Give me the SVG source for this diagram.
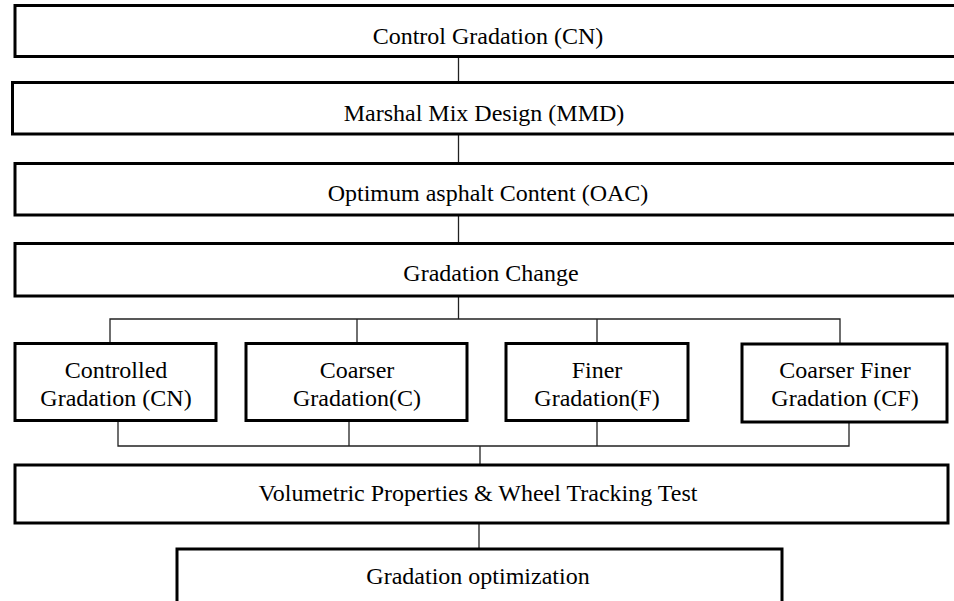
<svg xmlns="http://www.w3.org/2000/svg" width="954" height="601" viewBox="0 0 954 601">
<style>
.box{fill:#fff;stroke:#000;stroke-width:3}
.t{font-family:"Liberation Serif","Times New Roman",serif;font-size:24px;fill:#000;text-anchor:middle}
.c{fill:none;stroke:#222;stroke-width:1.3}
</style>
<rect width="954" height="601" fill="#fff"/>
<g id="connectors">
<line class="c" x1="458.5" y1="57" x2="458.5" y2="82"/>
<line class="c" x1="458.5" y1="134" x2="458.5" y2="163"/>
<line class="c" x1="458.5" y1="215" x2="458.5" y2="243"/>
<line class="c" x1="458.5" y1="296" x2="458.5" y2="319"/>
<polyline class="c" points="110,343 110,319 840,319 840,343"/>
<line class="c" x1="357" y1="319" x2="357" y2="343"/>
<line class="c" x1="597" y1="319" x2="597" y2="343"/>
<polyline class="c" points="118,420 118,446 849,446 849,421"/>
<line class="c" x1="349" y1="420" x2="349" y2="446"/>
<line class="c" x1="597" y1="420" x2="597" y2="446"/>
<line class="c" x1="480" y1="446" x2="480" y2="465"/>
<line class="c" x1="479" y1="523" x2="479" y2="549"/>
</g>
<g id="n1"><rect class="box" x="15" y="5.5" width="950" height="51"/><text class="t" x="488" y="44">Control Gradation (CN)</text></g>
<g id="n2"><rect class="box" x="12.5" y="82.5" width="950" height="51.5"/><text class="t" x="484" y="121">Marshal Mix Design (MMD)</text></g>
<g id="n3"><rect class="box" x="15" y="163.5" width="950" height="51.5"/><text class="t" x="488" y="201">Optimum asphalt Content (OAC)</text></g>
<g id="n4"><rect class="box" x="15" y="243.5" width="950" height="52.5"/><text class="t" x="491" y="281">Gradation Change</text></g>
<g id="n5"><rect class="box" x="15" y="343.5" width="201" height="77"/><text class="t" x="116" y="378">Controlled</text><text class="t" x="116" y="406">Gradation (CN)</text></g>
<g id="n6"><rect class="box" x="246" y="343.5" width="221" height="77"/><text class="t" x="357" y="378">Coarser</text><text class="t" x="357" y="406">Gradation(C)</text></g>
<g id="n7"><rect class="box" x="506" y="343.5" width="182" height="77"/><text class="t" x="597" y="378">Finer</text><text class="t" x="597" y="406">Gradation(F)</text></g>
<g id="n8"><rect class="box" x="742" y="344" width="205" height="78"/><text class="t" x="845" y="378">Coarser Finer</text><text class="t" x="845" y="406">Gradation (CF)</text></g>
<g id="n9"><rect class="box" x="15" y="465" width="933" height="58"/><text class="t" x="478" y="501">Volumetric Properties &amp; Wheel Tracking Test</text></g>
<g id="n10"><rect class="box" x="177" y="549" width="605" height="60"/><text class="t" x="478" y="584">Gradation optimization</text></g>
</svg>
